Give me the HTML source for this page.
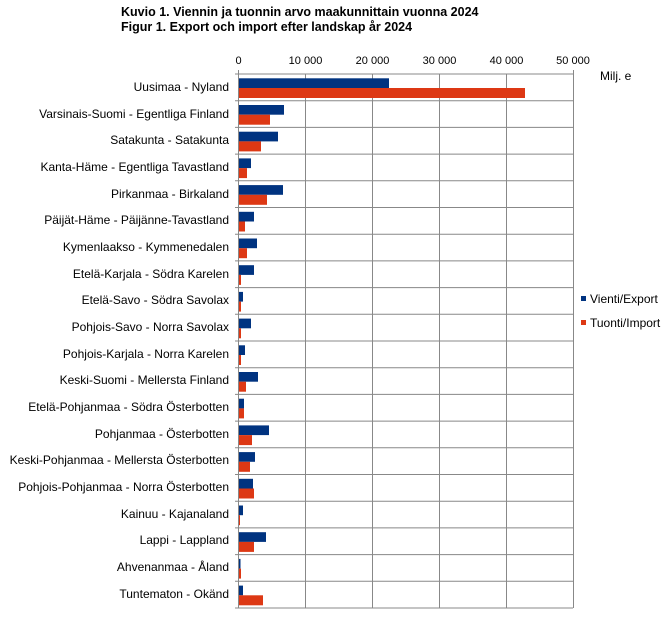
<!DOCTYPE html>
<html><head><meta charset="utf-8"><style>
body{margin:0;background:#fff}
svg{display:block;font-family:"Liberation Sans",sans-serif}
</style></head><body>
<svg width="671" height="624" viewBox="0 0 671 624" xmlns="http://www.w3.org/2000/svg">
<rect width="671" height="624" fill="#fff"/>
<text x="121" y="16" font-size="12.5" font-weight="bold">Kuvio 1. Viennin ja tuonnin arvo maakunnittain vuonna 2024</text>
<text x="121" y="31" font-size="12.5" font-weight="bold">Figur 1. Export och import efter landskap år 2024</text>
<g stroke="#888" stroke-width="1">
<line x1="305.5" y1="74" x2="305.5" y2="608"/><line x1="372.5" y1="74" x2="372.5" y2="608"/><line x1="439.5" y1="74" x2="439.5" y2="608"/><line x1="506.5" y1="74" x2="506.5" y2="608"/><line x1="573.5" y1="70" x2="573.5" y2="608"/>
<line x1="238.5" y1="70" x2="238.5" y2="608"/>
<path d="M235 74H573M235 100.7H573M235 127.4H573M235 154.1H573M235 180.8H573M235 207.5H573M235 234.2H573M235 260.9H573M235 287.6H573M235 314.3H573M235 341H573M235 367.7H573M235 394.4H573M235 421.1H573M235 447.8H573M235 474.5H573M235 501.2H573M235 527.9H573M235 554.6H573M235 581.3H573M235 608H573"/>
</g>
<g font-size="11" text-anchor="middle">
<text x="238.5" y="64">0</text><text x="305.5" y="64">10 000</text><text x="372.5" y="64">20 000</text><text x="439.5" y="64">30 000</text><text x="506.5" y="64">40 000</text><text x="573" y="64">50 000</text>
</g>
<text x="600" y="80" font-size="12">Milj. e</text>
<g font-size="12" text-anchor="end">
<text x="229" y="91">Uusimaa - Nyland</text>
<text x="229" y="118">Varsinais-Suomi - Egentliga Finland</text>
<text x="229" y="144">Satakunta - Satakunta</text>
<text x="229" y="171">Kanta-Häme - Egentliga Tavastland</text>
<text x="229" y="198">Pirkanmaa - Birkaland</text>
<text x="229" y="224">Päijät-Häme - Päijänne-Tavastland</text>
<text x="229" y="251">Kymenlaakso - Kymmenedalen</text>
<text x="229" y="278">Etelä-Karjala - Södra Karelen</text>
<text x="229" y="304">Etelä-Savo - Södra Savolax</text>
<text x="229" y="331">Pohjois-Savo - Norra Savolax</text>
<text x="229" y="358">Pohjois-Karjala - Norra Karelen</text>
<text x="229" y="384">Keski-Suomi - Mellersta Finland</text>
<text x="229" y="411">Etelä-Pohjanmaa - Södra Österbotten</text>
<text x="229" y="438">Pohjanmaa - Österbotten</text>
<text x="229" y="464">Keski-Pohjanmaa - Mellersta Österbotten</text>
<text x="229" y="491">Pohjois-Pohjanmaa - Norra Österbotten</text>
<text x="229" y="518">Kainuu - Kajanaland</text>
<text x="229" y="544">Lappi - Lappland</text>
<text x="229" y="571">Ahvenanmaa - Åland</text>
<text x="229" y="598">Tuntematon - Okänd</text>
</g>
<g fill="#003380">
<rect x="239" y="78.3" width="150" height="9.7"/>
<rect x="239" y="105" width="45" height="9.7"/>
<rect x="239" y="131.7" width="39" height="9.7"/>
<rect x="239" y="158.4" width="12" height="9.7"/>
<rect x="239" y="185.1" width="44" height="9.7"/>
<rect x="239" y="211.8" width="15" height="9.7"/>
<rect x="239" y="238.5" width="18" height="9.7"/>
<rect x="239" y="265.2" width="15" height="9.7"/>
<rect x="239" y="291.9" width="4" height="9.7"/>
<rect x="239" y="318.6" width="12" height="9.7"/>
<rect x="239" y="345.3" width="6" height="9.7"/>
<rect x="239" y="372" width="19" height="9.7"/>
<rect x="239" y="398.7" width="5" height="9.7"/>
<rect x="239" y="425.4" width="30" height="9.7"/>
<rect x="239" y="452.1" width="16" height="9.7"/>
<rect x="239" y="478.8" width="14" height="9.7"/>
<rect x="239" y="505.5" width="4" height="9.7"/>
<rect x="239" y="532.2" width="27" height="9.7"/>
<rect x="239" y="558.9" width="1.5" height="9.7"/>
<rect x="239" y="585.6" width="4" height="9.7"/>
</g>
<g fill="#dd3814">
<rect x="239" y="88" width="286" height="10"/>
<rect x="239" y="114.7" width="31" height="10"/>
<rect x="239" y="141.4" width="22" height="10"/>
<rect x="239" y="168.1" width="8" height="10"/>
<rect x="239" y="194.8" width="28" height="10"/>
<rect x="239" y="221.5" width="6" height="10"/>
<rect x="239" y="248.2" width="8" height="10"/>
<rect x="239" y="274.9" width="2" height="10"/>
<rect x="239" y="301.6" width="2" height="10"/>
<rect x="239" y="328.3" width="2" height="10"/>
<rect x="239" y="355" width="2" height="10"/>
<rect x="239" y="381.7" width="7" height="10"/>
<rect x="239" y="408.4" width="5" height="10"/>
<rect x="239" y="435.1" width="13" height="10"/>
<rect x="239" y="461.8" width="11" height="10"/>
<rect x="239" y="488.5" width="15" height="10"/>
<rect x="239" y="515.2" width="1" height="10"/>
<rect x="239" y="541.9" width="15" height="10"/>
<rect x="239" y="568.6" width="2" height="10"/>
<rect x="239" y="595.3" width="24" height="10"/>
</g>
<rect x="581" y="296" width="5" height="5" fill="#003380"/>
<text x="590" y="303" font-size="12">Vienti/Export</text>
<rect x="581" y="320" width="5" height="5" fill="#dd3814"/>
<text x="590" y="327" font-size="12">Tuonti/Import</text>
</svg>
</body></html>
